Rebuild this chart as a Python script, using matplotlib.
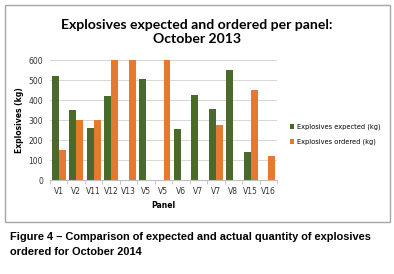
import numpy as np
import matplotlib.pyplot as plt
from matplotlib.patches import Rectangle

# Data
panels = ["V1", "V2", "V11", "V12", "V13", "V5", "V5", "V6", "V7", "V7", "V8", "V15", "V16"]
expected = [518, 350, 260, 418, 0, 503, 0, 255, 425, 353, 550, 138, 0]
ordered = [150, 300, 300, 600, 600, 0, 600, 0, 0, 275, 0, 450, 122]

green = "#4a6a2b"
orange = "#e57a2e"

fig = plt.figure(figsize=(3.94, 2.74), dpi=100)

# chart border
fig.patches.append(Rectangle((5 / 394, 1 - 222 / 274), 385 / 394, 217 / 274,
                             transform=fig.transFigure, fill=False,
                             edgecolor="#a6a6a6", linewidth=1.0))

ax = fig.add_axes([50 / 394, 1 - 180 / 274, 227 / 394, 120 / 274])
x = np.arange(len(panels))
w = 0.4
ax.bar(x - w / 2, expected, w, color=green, label="Explosives expected (kg)")
ax.bar(x + w / 2, ordered, w, color=orange, label="Explosives ordered (kg)")

ax.set_xlim(-0.5, len(panels) - 0.5)
ax.set_ylim(0, 600)
ax.set_yticks(range(0, 601, 100))
ax.set_xticks(x)
ax.set_xticklabels(panels)
ax.set_xticks(np.arange(-0.5, len(panels), 1), minor=True)
ax.tick_params(axis="x", which="major", length=0, labelsize=5.5, pad=5, colors="#333333")
ax.tick_params(axis="x", which="minor", length=3, color="#bfbfbf")
ax.tick_params(axis="y", length=0, labelsize=5.5, pad=5, colors="#333333")
ax.grid(axis="y", color="#d0d0d0", linewidth=0.6)
ax.set_axisbelow(True)
for s in ["top", "right", "left"]:
    ax.spines[s].set_visible(False)
ax.spines["bottom"].set_color("#bfbfbf")

ax.set_ylabel("Explosives (kg)", fontsize=5.5, fontweight="bold", labelpad=3)
ax.set_xlabel("Panel", fontsize=5.5, fontweight="bold", labelpad=4)

fig.text(197 / 394, 1 - 32 / 274, "Explosives expected and ordered per panel:\nOctober 2013",
         ha="center", va="center", fontsize=10.1, fontweight="bold", family="Lato",
         linespacing=1.2)

ax.legend(loc="center left", bbox_to_anchor=(1.03, 0.38), frameon=False,
          fontsize=4.8, handlelength=0.7, handleheight=0.7, labelspacing=1.3,
          handletextpad=0.4)

fig.text(10 / 394, 1 - 237 / 274, "Figure 4 \u2013 Comparison of expected and actual quantity of explosives",
         ha="left", va="center", fontsize=7.9, fontweight="bold", family="Liberation Sans")
fig.text(10 / 394, 1 - 252 / 274, "ordered for October 2014",
         ha="left", va="center", fontsize=7.9, fontweight="bold", family="Liberation Sans")

fig.savefig("out.png", dpi=100)
